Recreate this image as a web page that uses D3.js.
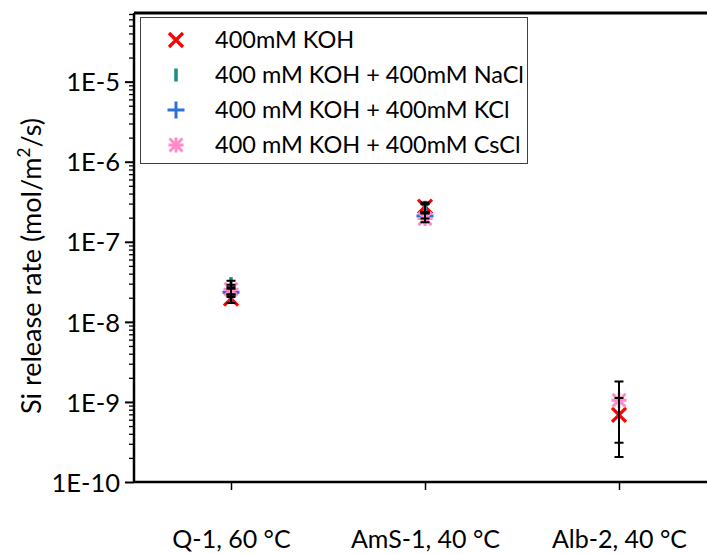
<!DOCTYPE html>
<html><head><meta charset="utf-8">
<script src="https://cdn.jsdelivr.net/npm/d3@7"></script>
<style>body{margin:0;background:#fff}svg{display:block}text{font-family:Lato,"Open Sans",sans-serif;fill:#000}</style>
</head><body>
<script>
const categories = ["Q-1, 60 °C", "AmS-1, 40 °C", "Alb-2, 40 °C"];
const seriesNames = ["400mM KOH", "400 mM KOH + 400mM NaCl", "400 mM KOH + 400mM KCl", "400 mM KOH + 400mM CsCl"];
// values per category, null = no data
const kohVal  = [1.95e-8, 2.75e-7, 6.9e-10];
const kohLo   = [1.72e-8, 2.35e-7, 2.05e-10];
const kohHi   = [2.2e-8, 3.1e-7, 1.8e-9];
const naclVal = [3.0e-8, 2.7e-7, null];
const naclLo  = [2.6e-8, 2.3e-7, null];
const naclHi  = [3.25e-8, 2.95e-7, null];
const kclVal  = [2.35e-8, 2.1e-7, null];
const kclLo   = [2.05e-8, 1.95e-7, null];
const kclHi   = [2.7e-8, 2.3e-7, null];
const csclVal = [2.55e-8, 1.95e-7, 1.05e-9];
const csclLo  = [2.2e-8, 1.75e-7, 3.1e-10];
const csclHi  = [2.9e-8, 2.25e-7, 1.12e-9];
const yTicks = [1e-10, 1e-9, 1e-8, 1e-7, 1e-6, 1e-5];
const yTickLabels = ["1E-10", "1E-9", "1E-8", "1E-7", "1E-6", "1E-5"];
const yDomain = [1e-10, 7.2e-5];

const W = 707, H = 554;
const L = 134, T = 13, B = 482;
const svg = d3.select("body").append("svg").attr("width", W).attr("height", H);
svg.append("rect").attr("width", W).attr("height", H).attr("fill", "#fff");

const x = d3.scalePoint().domain(categories).range([L, 716]).padding(0.5);
const y = d3.scaleLog().domain(yDomain).range([B, T]);

// minor ticks
const minor = [];
for (let e = -10; e <= -5; e++) for (let m = 2; m <= 9; m++) { const v = m * Math.pow(10, e); if (v <= yDomain[1]) minor.push(v); }
const yAxisMinor = d3.axisLeft(y).tickValues(minor).tickSize(5).tickFormat("");
const gm = svg.append("g").attr("transform", `translate(${L},0)`).call(yAxisMinor);
gm.select(".domain").remove();
gm.selectAll("line").attr("stroke", "#000").attr("stroke-width", 1.3);

const yAxis = d3.axisLeft(y).tickValues(yTicks).tickSize(9).tickPadding(5).tickFormat((d, i) => yTickLabels[i]);
const gy = svg.append("g").attr("transform", `translate(${L},0)`).call(yAxis);
gy.select(".domain").remove();
gy.selectAll("line").attr("stroke", "#000").attr("stroke-width", 2);
gy.selectAll("text").attr("font-size", 25.5).attr("font-family", "Lato").attr("dy", "0.36em");

const xAxis = d3.axisBottom(x).tickSize(8).tickPadding(0);
const gx = svg.append("g").attr("transform", `translate(0,${B})`).call(xAxis);
gx.select(".domain").remove();
gx.selectAll("line").attr("stroke", "#000").attr("stroke-width", 1.5);
gx.selectAll("text").attr("font-size", 25).attr("font-family", "Lato").attr("y", 66).attr("dy", 0);

// frame lines
svg.append("line").attr("x1", L).attr("x2", W).attr("y1", B).attr("y2", B).attr("stroke", "#000").attr("stroke-width", 2.5);
svg.append("line").attr("x1", L).attr("x2", L).attr("y1", T).attr("y2", B).attr("stroke", "#000").attr("stroke-width", 2.5);
svg.append("line").attr("x1", L).attr("x2", W).attr("y1", T).attr("y2", T).attr("stroke", "#000").attr("stroke-width", 3);

// y title
const yt = svg.append("text").attr("transform", `translate(41,266) rotate(-90)`)
  .attr("text-anchor", "middle").attr("font-size", 27);
yt.append("tspan").text("Si release rate (mol/m");
yt.append("tspan").text("2").attr("font-size", 17).attr("dy", -11);
yt.append("tspan").text("/s)").attr("dy", 11);

const colors = ["#ff0000", "#1a8c84", "#2b72d8", "#ff8cc8"];
function marker(g, k, cx, cy) {
  const c = colors[k];
  if (k === 0) {
    const s = 7;
    g.append("path").attr("d", `M${cx - s},${cy - s}L${cx + s},${cy + s}M${cx - s},${cy + s}L${cx + s},${cy - s}`).attr("stroke", c).attr("stroke-width", 3.2).attr("fill", "none");
  } else if (k === 1) {
    g.append("path").attr("d", `M${cx},${cy - 6.5}L${cx},${cy + 6.5}`).attr("stroke", c).attr("stroke-width", 3.5).attr("fill", "none");
  } else if (k === 2) {
    const s = 8.5;
    g.append("path").attr("d", `M${cx - s},${cy}L${cx + s},${cy}M${cx},${cy - s}L${cx},${cy + s}`).attr("stroke", c).attr("stroke-width", 3).attr("fill", "none");
  } else {
    const s = 6.5, v = 7.5;
    g.append("path").attr("d", `M${cx - s},${cy - s}L${cx + s},${cy + s}M${cx - s},${cy + s}L${cx + s},${cy - s}M${cx},${cy - v}L${cx},${cy + v}M${cx - v},${cy}L${cx + v},${cy}`).attr("stroke", c).attr("stroke-width", 3).attr("fill", "none");
  }
}

const series = [
  {v: kohVal, lo: kohLo, hi: kohHi},
  {v: naclVal, lo: naclLo, hi: naclHi},
  {v: kclVal, lo: kclLo, hi: kclHi},
  {v: csclVal, lo: csclLo, hi: csclHi}
];
const gd = svg.append("g");
series.forEach((s, k) => {
  categories.forEach((c, i) => {
    if (s.v[i] == null) return;
    marker(gd, k, x(c), y(s.v[i]));
  });
});
// error bars on top
series.forEach((s, k) => {
  categories.forEach((c, i) => {
    if (s.v[i] == null) return;
    const cx = x(c), y1 = y(s.lo[i]), y2 = y(s.hi[i]);
    gd.append("path").attr("d", `M${cx},${y1}L${cx},${y2}M${cx - 4.5},${y1}L${cx + 4.5},${y1}M${cx - 4.5},${y2}L${cx + 4.5},${y2}`)
      .attr("stroke", "#000").attr("stroke-width", 2).attr("fill", "none");
  });
});

// legend
const lg = svg.append("g");
lg.append("rect").attr("x", 140.5).attr("y", 17.5).attr("width", 387).attr("height", 146).attr("fill", "#fff").attr("stroke", "#404040").attr("stroke-width", 1);
seriesNames.forEach((n, k) => {
  const ry = 40 + k * 35;
  marker(lg, k, 176, ry);
  lg.append("text").attr("x", 215).attr("y", ry).attr("dy", "0.36em").attr("font-size", 23.5).text(n);
});
</script>
</body></html>
